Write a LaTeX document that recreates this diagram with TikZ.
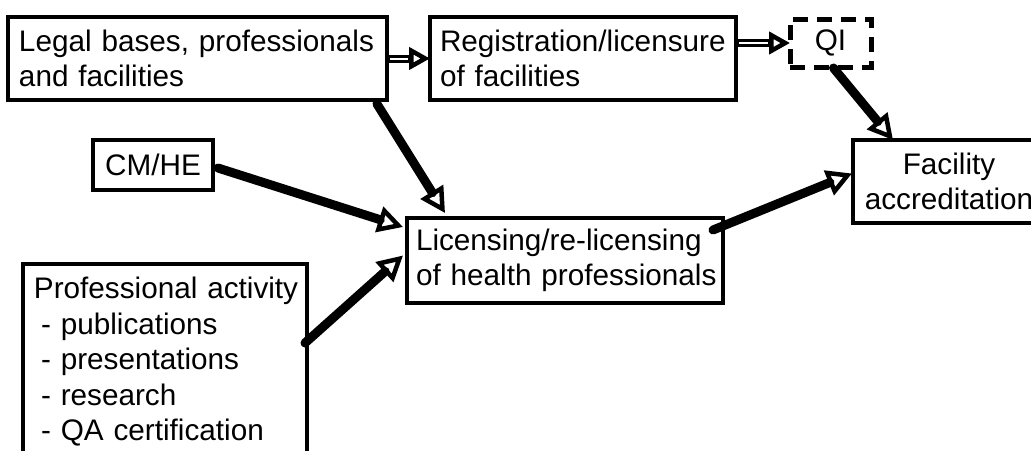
\documentclass[tikz,border=0pt]{standalone}
\usepackage{fontspec}
\setmainfont{Liberation Sans}
\usetikzlibrary{arrows.meta,calc}
\hyphenpenalty=10000
\exhyphenpenalty=10000
\begin{document}
\begin{tikzpicture}[x=1pt,y=-1pt,
  txt/.style={font=\fontsize{29.7}{35.5}\selectfont},
  box/.style={txt, draw, line width=3.5pt, inner ysep=0pt, outer sep=0pt, anchor=north west},
  leftbox/.style={box, align=left},
  bigarrow/.style={line width=9pt, line cap=round,
    -{Triangle[open,length=25pt,width=26pt,line width=4.5pt]}},
  dblarrow/.style={line width=8pt,
    -{Triangle[open,length=21pt,width=22pt,line width=4.5pt]},
    postaction={draw=white, line width=2pt, -, shorten >=22pt, shorten <=3pt}}
]
\useasboundingbox (0,0) rectangle (1031,450);

% boxes
\node[leftbox, text width=357pt, inner xsep=11pt, minimum height=83pt] (legal) at (8,17)
  {Legal~bases,~professionals\\and~facilities};
\node[leftbox, text width=286pt, inner xsep=10pt, minimum height=83pt] (reg) at (430,17)
  {Registration/licensure\\of~facilities};
\node[box, dashed, dash pattern=on 15pt off 9pt, line width=5pt, minimum width=81pt,
  minimum height=48pt, inner xsep=0pt] (qi) at (790,19) {QI};
\node[box, align=center, minimum width=120pt, minimum height=50pt, inner xsep=0pt] (cm) at (93,140)
  {CM/HE};
\node[box, align=center, text width=176pt, inner xsep=8pt, minimum height=83pt] (fac) at (853,140)
  {Facility\\accreditation};
\node[leftbox, text width=298pt, inner xsep=9pt, minimum height=85pt] (lic) at (407,218)
  {Licensing/re-licensing\\of~health~professionals};
\node[leftbox, text width=262pt, inner xsep=11pt, inner ysep=13pt, text depth=180pt] (prof) at (23,264)
  {Professional~activity\\
   \hspace*{7pt}-~publications\\
   \hspace*{7pt}-~presentations\\
   \hspace*{7pt}-~research\\
   \hspace*{7pt}-~QA~certification};

% connectors
\draw[dblarrow] (legal.east) -- (reg.west);
\draw[dblarrow] (reg.east |- qi.west) -- (qi.west);
\draw[bigarrow] ($(qi.south)+(3,1)$) -- ($(fac.north west)+(40,0)$);
\draw[bigarrow] ($(legal.south east)+(-10,4)$) -- ($(lic.north west)+(38,-5)$);
\draw[bigarrow] ($(cm.east)+(5,3)$) -- ($(lic.north west)+(-4,9)$);
\draw[bigarrow] ($(prof.north east)+(-2,79)$) -- ($(lic.west)+(-4,-5)$);
\draw[bigarrow] ($(lic.north east)+(-10,12)$) -- ($(fac.west)+(-1,-8)$);
\end{tikzpicture}
\end{document}
